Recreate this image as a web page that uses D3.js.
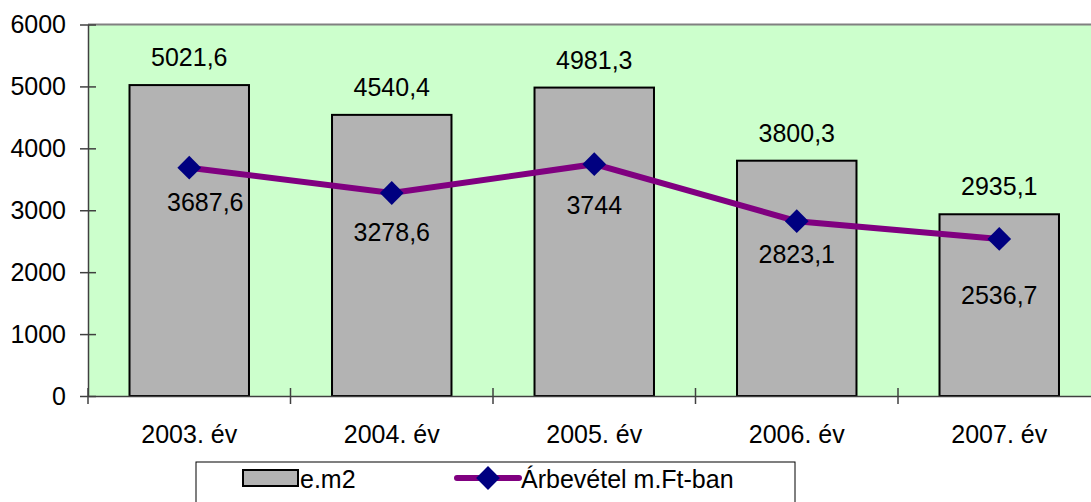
<!DOCTYPE html>
<html><head><meta charset="utf-8">
<script src="https://cdn.jsdelivr.net/npm/d3@7/dist/d3.min.js"></script>
<style>body{margin:0;background:#fff}svg{display:block;font-family:"Liberation Sans",Arial,sans-serif}</style>
</head><body><svg id="c" width="1091" height="502"></svg>
<script>
const categories = ["2003. év","2004. év","2005. év","2006. év","2007. év"];
const areaValues = [5021.6, 4540.4, 4981.3, 3800.3, 2935.1];
const revenueValues = [3687.6, 3278.6, 3744, 2823.1, 2536.7];
const yTicks = [0,1000,2000,3000,4000,5000,6000];
const seriesNames = ["e.m2","Árbevétel m.Ft-ban"];
const fmt = v => String(v).replace(".", ",");
const FS = 25;

const svg = d3.select("#c");
const L = 88, T = 24.5, B = 396, R = 88 + 5*202.5;
const x = d3.scaleBand().domain(categories).range([L, R]).paddingInner(0.41).paddingOuter(0.205);
const xc = d3.scaleBand().domain(categories).range([L, R]);
const y = d3.scaleLinear().domain([0, 6000]).range([B, T]);

svg.append("rect").attr("x", L).attr("y", T).attr("width", R - L).attr("height", B - T).attr("fill", "#ccffcc");
svg.append("line").attr("x1", L).attr("x2", R).attr("y1", T).attr("y2", T).attr("stroke", "#808080").attr("stroke-width", 2);

svg.selectAll(".bar").data(areaValues).join("rect")
  .attr("x", (d,i) => x(categories[i])).attr("width", x.bandwidth())
  .attr("y", d => y(d)).attr("height", d => B - y(d))
  .attr("fill", "#b3b3b3").attr("stroke", "#000").attr("stroke-width", 2);

// axes
const yAxis = d3.axisLeft(y).tickValues(yTicks).tickSize(0).tickPadding(22).tickFormat(d => d);
const gy = svg.append("g").attr("transform", `translate(${L},0)`).call(yAxis);
gy.attr("font-family", null).attr("font-size", FS);
gy.select(".domain").attr("stroke", "#404040").attr("stroke-width", 1.5);
gy.selectAll("text").attr("fill", "#000");
gy.selectAll(".tick").append("line").attr("x1", -8).attr("x2", 8).attr("stroke", "#404040").attr("stroke-width", 1.5);

const xAxis = d3.axisBottom(xc).tickSize(0).tickPadding(29);
const gx = svg.append("g").attr("transform", `translate(0,${B})`).call(xAxis);
gx.attr("font-family", null).attr("font-size", FS);
gx.select(".domain").attr("stroke", "#404040").attr("stroke-width", 1.5);
gx.selectAll("text").attr("fill", "#000");
const bounds = categories.map(c => xc(c)).concat([R]);
gx.selectAll(".btick").data(bounds).join("line").attr("class","btick")
  .attr("x1", d => d).attr("x2", d => d).attr("y1", -8).attr("y2", 8)
  .attr("stroke", "#404040").attr("stroke-width", 1.5);

// line
const cx = i => xc(categories[i]) + xc.bandwidth()/2;
const line = d3.line().x((d,i) => cx(i)).y(d => y(d));
svg.append("path").datum(revenueValues).attr("d", line).attr("fill", "none")
  .attr("stroke", "#800080").attr("stroke-width", 6);
const diamond = d3.symbol().type(d3.symbolDiamond2).size(360);
svg.selectAll(".pt").data(revenueValues).join("path")
  .attr("transform", (d,i) => `translate(${cx(i)},${y(d)})`)
  .attr("d", diamond).attr("fill", "#000080");

// labels
svg.selectAll(".bl").data(areaValues).join("text")
  .attr("x", (d,i) => cx(i)).attr("y", d => y(d) - 19)
  .attr("text-anchor", "middle").attr("font-size", FS).text(d => fmt(d));
const lblDx = [16, 0, 0, 0, 0];
const lblDy = [43, 48, 50, 42, 65];
svg.selectAll(".ll").data(revenueValues).join("text")
  .attr("x", (d,i) => cx(i) + lblDx[i]).attr("y", (d,i) => y(d) + lblDy[i])
  .attr("text-anchor", "middle").attr("font-size", FS).text(d => fmt(d));

// legend
const lg = svg.append("g");
lg.append("rect").attr("x", 196).attr("y", 462).attr("width", 599).attr("height", 60)
  .attr("fill", "#fff").attr("stroke", "#000").attr("stroke-width", 1);
lg.append("rect").attr("x", 243).attr("y", 470).attr("width", 55).attr("height", 16)
  .attr("fill", "#b3b3b3").attr("stroke", "#000").attr("stroke-width", 2);
lg.append("text").attr("x", 300).attr("y", 488).attr("font-size", FS).text(seriesNames[0]);
lg.append("line").attr("x1", 457).attr("x2", 519).attr("y1", 478).attr("y2", 478)
  .attr("stroke", "#800080").attr("stroke-width", 6).attr("stroke-linecap", "round");
lg.append("path").attr("transform", "translate(488,478)").attr("d", diamond).attr("fill", "#000080");
lg.append("text").attr("x", 521).attr("y", 488).attr("font-size", FS).text(seriesNames[1]);
</script></body></html>
